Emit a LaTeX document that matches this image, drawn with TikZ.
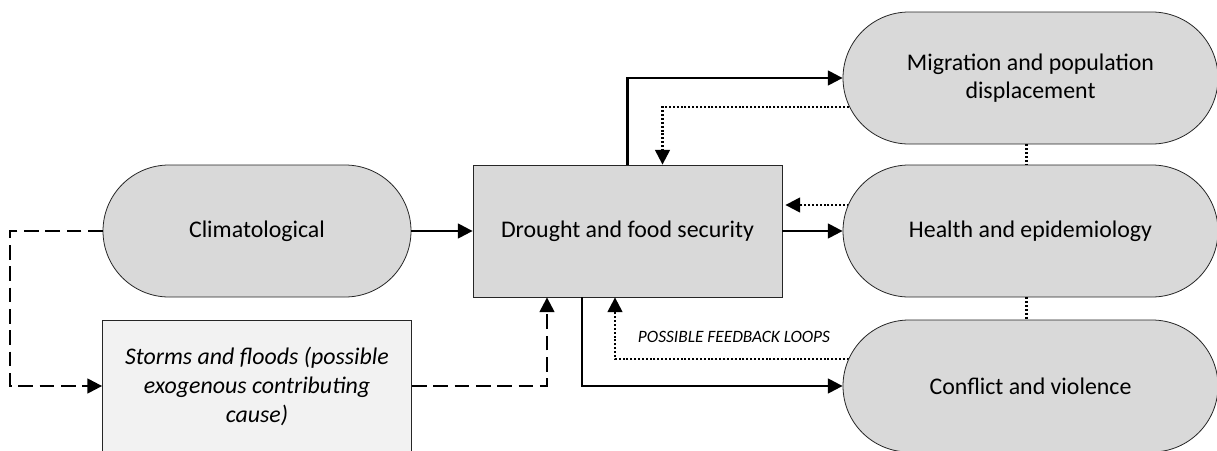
\documentclass[tikz,border=0pt]{standalone}
\usepackage{fontspec}
\setmainfont{Carlito}
\usetikzlibrary{arrows.meta}
\usetikzlibrary{calc}
\usetikzlibrary{backgrounds}

\begin{document}
\begin{tikzpicture}[x=0.75pt, y=-0.75pt,
	line/.style={>={Triangle[length=11pt, width=11pt]}, line width=1.7pt},
	dots/.style={line width=1.7pt, dash pattern=on 1.5pt off 1.4pt},
	dashes/.style={line width=1.7pt, dash pattern=on 11pt off 5pt},
	pill/.style={draw=black!85, line width=0.6pt, fill=black!15, rounded corners=49.5pt,
		minimum height=99pt, align=center, font=\fontsize{17.9}{21.5}\selectfont},
	box/.style={draw=black!85, line width=0.6pt, fill=black!15,
		minimum width=231.75pt, minimum height=99pt, align=center, font=\fontsize{17.9}{21.5}\selectfont}]

	\clip (0, 0) rectangle (1217, 450);

	\node[pill, minimum width=231pt] (clim) at (257, 231) {Climatological};
	\node[box, fill=black!5, font=\fontsize{17.9}{21.8}\selectfont\itshape] (storms) at (257, 386)
		{Storms and floods (possible\\exogenous contributing\\cause)};
	\node[box] (drought) at (627.5, 231) {Drought and food security};

	\node[pill, minimum width=281.25pt] (mig) at (1030.5, 78) {Migration and population\\displacement};
	\node[pill, minimum width=281.25pt] (health) at (1030.5, 231) {Health and epidemiology};
	\node[pill, minimum width=281.25pt] (conf) at (1030.5, 386) {Conflict and violence};

	\node[font=\fontsize{13}{15}\selectfont\itshape] (fbl) at (734, 337) {POSSIBLE FEEDBACK LOOPS};

	\coordinate (dl) at (10, 231);

	\draw[->, line] (clim.east) -- (drought.west);
	\draw[->, line] (drought.east) -- (health.west);
	\draw[->, line] (drought.north) |- (mig.west);
	\draw[->, line] ($(drought.south)+(-45.5, 0)$) |- (conf.west);

	\draw[->, line, dashes] (clim.west) -- (dl) |- (storms.west);
	\draw[->, line, dashes] (storms.east) -| ($(drought.south)+(-80.5, 0)$);

	\begin{scope}[on background layer]
		\draw[->, line, dots] ($(mig.center)+(0, 29)$) -| ($(drought.north)+(35, 0)$);
		\draw[->, line, dots] ($(health.center)+(0, -26)$) -- ($(drought.east)+(3, -26)$);
		\draw[->, line, dots] ($(conf.center)+(0, -27)$) -| ($(drought.south)+(-12.5, 0)$);
	\end{scope}

	\draw[line, dots] ($(mig.south)+(-4, 0)$) -- ($(health.north)+(-4, 0)$);
	\draw[line, dots] ($(health.south)+(-4, 0)$) -- ($(conf.north)+(-4, 0)$);

\end{tikzpicture}
\end{document}
